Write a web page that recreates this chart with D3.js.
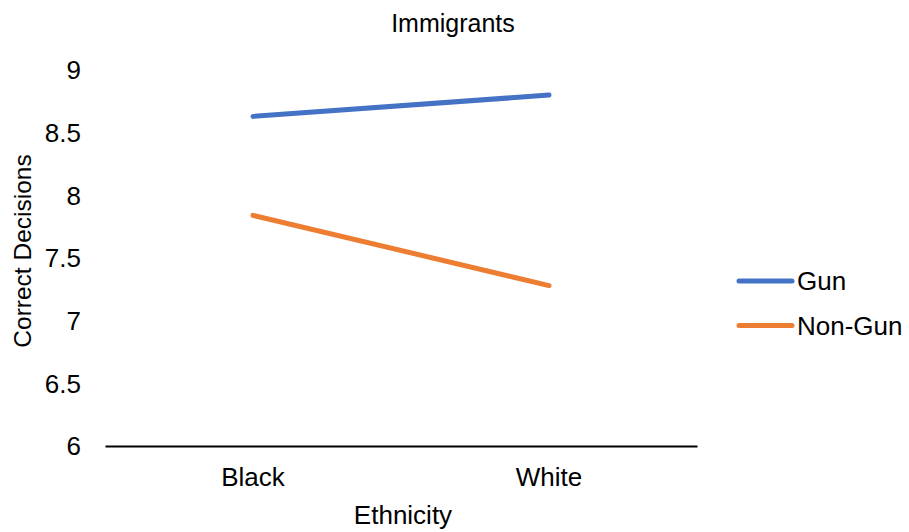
<!DOCTYPE html>
<html><head><meta charset="utf-8">
<script src="https://cdn.jsdelivr.net/npm/d3@7"></script>
<style>body{margin:0;background:#fff;} text{font-family:"Liberation Sans",Arial,sans-serif;fill:#000;}</style>
</head><body>
<svg id="c" width="909" height="532"></svg>
<script>
const categories = ["Black", "White"];
const seriesNames = ["Gun", "Non-Gun"];
const gunValues = [8.63, 8.80];
const nonGunValues = [7.84, 7.28];
const yTicks = [6, 6.5, 7, 7.5, 8, 8.5, 9];
const colors = ["#4472C4", "#ED7D31"];

const series = [gunValues, nonGunValues];
const svg = d3.select("#c");
const x = d3.scaleBand().domain(categories).range([105, 697]);
const y = d3.scaleLinear().domain([6, 9]).range([446, 70]);

svg.append("text").attr("x", 453).attr("y", 32).attr("text-anchor", "middle")
  .style("font-size", "25px").text("Immigrants");

// y tick labels
svg.selectAll(".yt").data(yTicks).enter().append("text")
  .attr("x", 81).attr("y", d => y(d)).attr("dy", "0.36em").attr("text-anchor", "end")
  .style("font-size", "26px").text(d => d);

// x axis
const xa = svg.append("g").attr("transform", "translate(0,446)")
  .call(d3.axisBottom(x).tickSize(0).tickPadding(22));
xa.select(".domain").attr("stroke", "#000").attr("stroke-width", 2);
xa.selectAll("text").style("font-size", "26px").style("font-family", "Liberation Sans, Arial, sans-serif").attr("fill", "#000");

svg.append("text").attr("x", 403).attr("y", 524).attr("text-anchor", "middle")
  .style("font-size", "26px").text("Ethnicity");
svg.append("text").attr("transform", "translate(31,251) rotate(-90)").attr("text-anchor", "middle")
  .style("font-size", "24.5px").text("Correct Decisions");

const line = d3.line().x((d, i) => x(categories[i]) + x.bandwidth() / 2).y(d => y(d));
series.forEach((s, k) => {
  svg.append("path").datum(s).attr("d", line).attr("fill", "none")
    .attr("stroke", colors[k]).attr("stroke-width", 5).attr("stroke-linecap", "round");
});

// legend
seriesNames.forEach((n, k) => {
  const ly = 281 + k * 44.5;
  svg.append("line").attr("x1", 739).attr("x2", 792).attr("y1", ly).attr("y2", ly)
    .attr("stroke", colors[k]).attr("stroke-width", 5).attr("stroke-linecap", "round");
  svg.append("text").attr("x", 797).attr("y", ly + 9).style("font-size", "26px").text(n);
});
</script>
</body></html>
